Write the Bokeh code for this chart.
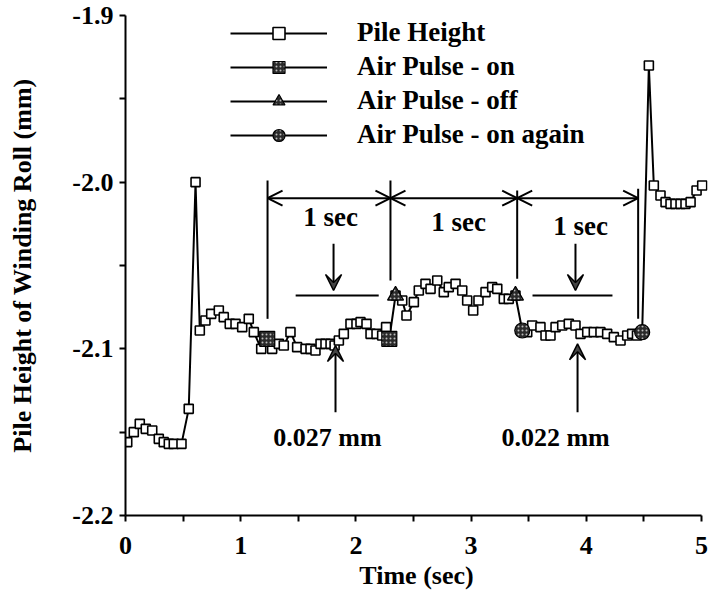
from bokeh.plotting import figure
from bokeh.models import (Range1d, FixedTicker, Legend, LegendItem, Arrow,
                          OpenHead, VeeHead, Label, ColumnDataSource)
from bokeh.embed import file_html
from bokeh.resources import INLINE

# ---------------- data ----------------
time_s = [0.015, 0.072, 0.124, 0.176, 0.232, 0.289, 0.332, 0.376, 0.419, 0.486,
          0.549, 0.608, 0.645, 0.694, 0.744, 0.810, 0.853, 0.905, 0.955, 1.013,
          1.070, 1.114, 1.178, 1.230, 1.273, 1.331, 1.374, 1.432, 1.490, 1.563,
          1.606, 1.649, 1.693, 1.736, 1.780, 1.815, 1.852, 1.895, 1.953, 2.005,
          2.040, 2.092, 2.127, 2.179, 2.228, 2.262, 2.290, 2.344, 2.402, 2.439,
          2.503, 2.546, 2.604, 2.648, 2.706, 2.763, 2.806, 2.865, 2.923, 2.966,
          3.018, 3.064, 3.125, 3.183, 3.227, 3.284, 3.327, 3.385, 3.444, 3.487,
          3.530, 3.602, 3.646, 3.689, 3.733, 3.791, 3.848, 3.906, 3.950, 4.008,
          4.065, 4.123, 4.181, 4.239, 4.297, 4.355, 4.398, 4.440, 4.485, 4.543,
          4.586, 4.644, 4.688, 4.731, 4.774, 4.818, 4.861, 4.905, 4.957, 5.006]
pile_mm = [-2.156, -2.150, -2.145, -2.148, -2.149, -2.154, -2.156, -2.157, -2.157, -2.157,
           -2.136, -2.000, -2.089, -2.083, -2.079, -2.077, -2.081, -2.085, -2.085, -2.087,
           -2.082, -2.090, -2.100, -2.094, -2.100, -2.097, -2.098, -2.090, -2.099, -2.100,
           -2.100, -2.101, -2.097, -2.097, -2.097, -2.098, -2.095, -2.091, -2.085, -2.085,
           -2.084, -2.085, -2.091, -2.091, -2.092, -2.087, -2.094, -2.068, -2.071, -2.080,
           -2.072, -2.065, -2.061, -2.064, -2.059, -2.066, -2.063, -2.061, -2.065, -2.071,
           -2.077, -2.071, -2.066, -2.063, -2.064, -2.070, -2.070, -2.068, -2.089, -2.090,
           -2.086, -2.087, -2.092, -2.092, -2.087, -2.086, -2.085, -2.086, -2.091, -2.090,
           -2.090, -2.090, -2.091, -2.093, -2.095, -2.092, -2.091, -2.092, -2.090, -1.930,
           -2.002, -2.008, -2.012, -2.013, -2.013, -2.013, -2.013, -2.012, -2.005, -2.002]

on_t = [1.230, 2.290]
on_mm = [-2.094, -2.094]
off_t = [2.344, 3.385]
off_mm = [-2.068, -2.068]
again_t = [3.444, 4.485]
again_mm = [-2.089, -2.090]

series_names = ["Pile Height", "Air Pulse - on", "Air Pulse - off", "Air Pulse - on again"]

x_ticks = [0, 1, 2, 3, 4, 5]
x_minor = [0.5, 1.5, 2.5, 3.5, 4.5]
x_tick_labels = ["0", "1", "2", "3", "4", "5"]
y_ticks = [-2.2, -2.1, -2.0, -1.9]
y_minor = [-2.15, -2.05, -1.95]
y_tick_labels = ["-2.2", "-2.1", "-2.0", "-1.9"]

# annotation values
pulse_t = [1.233, 2.300, 3.400, 4.450]          # boundaries of the 1-sec intervals
gap_labels = ["0.027 mm", "0.022 mm"]

# ---------------- figure ----------------
FONT = "Liberation Serif"
p = figure(width=708, height=600, x_range=Range1d(0, 5.052), y_range=Range1d(-2.2, -1.9),
           output_backend="svg", toolbar_location=None,
           min_border_left=125, min_border_right=1, min_border_top=15, min_border_bottom=85)
p.outline_line_color = None
p.xgrid.visible = False
p.ygrid.visible = False
p.background_fill_color = "white"

for ax in (p.xaxis[0], p.yaxis[0]):
    ax.axis_line_width = 2
    ax.major_tick_line_width = 2
    ax.minor_tick_line_width = 2
    ax.major_tick_in = 0
    ax.major_tick_out = 6
    ax.minor_tick_in = 0
    ax.minor_tick_out = 6
    ax.major_label_text_font = FONT
    ax.major_label_text_font_style = "bold"
    ax.major_label_text_font_size = "26px"
    ax.major_label_text_color = "black"
    ax.axis_label_text_font = FONT
    ax.axis_label_text_font_style = "bold"
    ax.axis_label_text_font_size = "26px"
    ax.axis_label_text_color = "black"

p.xaxis.ticker = FixedTicker(ticks=x_ticks, minor_ticks=x_minor)
p.xaxis.major_label_overrides = dict(zip(x_ticks, x_tick_labels))
p.xaxis.bounds = (0, 5)
p.xaxis.axis_label = "Time (sec)"
p.xaxis.major_label_standoff = 15
p.xaxis.axis_label_standoff = 4

p.yaxis.ticker = FixedTicker(ticks=y_ticks, minor_ticks=y_minor)
p.yaxis.major_label_overrides = dict(zip(y_ticks, y_tick_labels))
p.yaxis.axis_label = "Pile Height of Winding Roll (mm)"
p.yaxis.major_label_standoff = 6
p.yaxis.axis_label_standoff = 32

# ---------------- data glyphs ----------------
src = ColumnDataSource(dict(t=time_s, h=pile_mm))
pile_line = p.line("t", "h", source=src, line_color="black", line_width=2)
pile_pts = p.scatter("t", "h", source=src, marker="square", size=9, line_color="black",
                     line_width=1.6, fill_color="white")

on_pts = p.scatter(on_t, on_mm, marker="square", size=15, line_color="black", line_width=1.2,
                   fill_color="#2a2a2a", hatch_pattern="dot", hatch_color="#bbbbbb", hatch_scale=4)
off_pts = p.scatter(off_t, off_mm, marker="triangle", size=16, line_color="black", line_width=1.2,
                    fill_color="#2a2a2a", hatch_pattern="dot", hatch_color="#bbbbbb", hatch_scale=4)
again_pts = p.scatter(again_t, again_mm, marker="circle", size=15, line_color="black", line_width=1.2,
                      fill_color="#2a2a2a", hatch_pattern="dot", hatch_color="#bbbbbb", hatch_scale=4)

# ---------------- annotations ----------------
bracket_y = -2.0096
tops = [-1.999, -1.999, -2.005, -2.004]
bottoms = [-2.082, -2.059, -2.058, -2.082]
p.segment(x0=pulse_t, y0=tops, x1=pulse_t, y1=bottoms, line_color="black", line_width=2)

for a, b in zip(pulse_t[:-1], pulse_t[1:]):
    p.add_layout(Arrow(start=OpenHead(size=15, line_width=2), end=OpenHead(size=15, line_width=2),
                       x_start=a, y_start=bracket_y, x_end=b, y_end=bracket_y,
                       line_width=2, line_color="black"))

sec_x = [1.780, 2.891, 3.950]
sec_y = [-2.021, -2.024, -2.026]
for sx, sy in zip(sec_x, sec_y):
    p.add_layout(Label(x=sx, y=sy, text="1 sec", text_align="center", text_baseline="middle",
                       text_font=FONT, text_font_style="bold", text_font_size="27px",
                       text_color="black"))

# reference levels and down arrows
ref_level = -2.068
p.segment(x0=[1.477, 3.533], y0=[ref_level, ref_level], x1=[2.198, 4.227], y1=[ref_level, ref_level],
          line_color="black", line_width=2)
for ax_ in (1.806, 3.906):
    p.add_layout(Arrow(end=VeeHead(size=16, fill_color="#444444", line_color="black", line_width=1.5),
                       x_start=ax_, y_start=-2.037, x_end=ax_, y_end=-2.065,
                       line_width=2, line_color="black"))

# up arrows to minima
for ux, uy in ((1.823, -2.098), (3.924, -2.097)):
    p.add_layout(Arrow(end=VeeHead(size=16, fill_color="#444444", line_color="black", line_width=1.5),
                       x_start=ux, y_start=-2.138, x_end=ux, y_end=uy,
                       line_width=2, line_color="black"))

for lx, txt in zip((1.753, 3.733), gap_labels):
    p.add_layout(Label(x=lx, y=-2.153, text=txt, text_align="center", text_baseline="middle",
                       text_font=FONT, text_font_style="bold", text_font_size="26px",
                       text_color="black"))

# ---------------- legend ----------------
legend = Legend(items=[
    LegendItem(label=series_names[0], renderers=[pile_line, pile_pts]),
    LegendItem(label=series_names[1], renderers=[pile_line, on_pts]),
    LegendItem(label=series_names[2], renderers=[pile_line, off_pts]),
    LegendItem(label=series_names[3], renderers=[pile_line, again_pts]),
], location=(105, 365), orientation="vertical",
    glyph_width=97, glyph_height=30, label_height=30, label_standoff=30, spacing=3,
    padding=0, margin=0, border_line_color=None, background_fill_alpha=0,
    label_text_font=FONT, label_text_font_style="bold", label_text_font_size="27px",
    label_text_color="black")
p.add_layout(legend)

open("out.html", "w").write(file_html(p, INLINE))
